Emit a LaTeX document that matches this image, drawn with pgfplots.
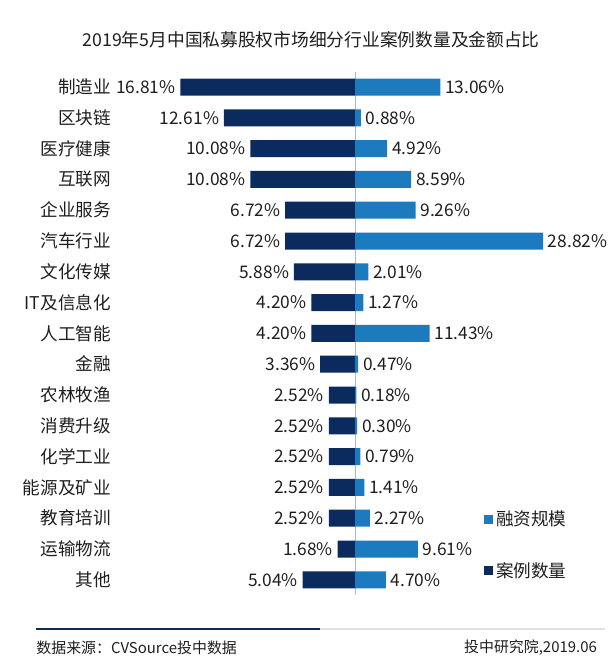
\documentclass[border=0pt]{standalone}
\usepackage{pgfplots}
\pgfplotsset{compat=1.18}
\usepackage{fontspec}
\setmainfont{Noto Sans CJK SC}
\definecolor{navy}{HTML}{0B2A5E}
\definecolor{blu}{HTML}{1B7BBE}
\definecolor{cline}{HTML}{A9B8CC}
\definecolor{txt}{HTML}{1E1E1E}
\pgfplotsset{
  base/.style={
    at={(0pt,0pt)}, anchor=south west, scale only axis,
    width=457.5pt, height=503.25pt,
    xbar, bar width=12.75pt, bar shift=0pt, y dir=reverse, ymin=-2.8247, ymax=18.961,
    axis line style={draw=none}, xtick=\empty, clip=false,
    major tick length=0pt,
    nodes near coords={\pgfmathprintnumber[assume math mode=true,fixed,fixed zerofill,precision=2]{\pgfplotspointmeta}\%},
  }
}
\begin{document}
\begin{tikzpicture}
\begin{scope}[x=0.75pt,y=0.75pt]
\useasboundingbox (0,0) rectangle (610,671);
\end{scope}
% left: case counts
\begin{axis}[base, x dir=reverse, xmin=-24.52, xmax=34.13, ytick=\empty,
  every node near coord/.append style={anchor=east, font=\fontsize{13}{15}\selectfont, text=txt, inner sep=3.5pt}]
\addplot[fill=navy, draw=none, bar shift=0pt] coordinates {
(16.81,0) (12.61,1) (10.08,2) (10.08,3) (6.72,4) (6.72,5) (5.88,6) (4.20,7) (4.20,8)
(3.36,9) (2.52,10) (2.52,11) (2.52,12) (2.52,13) (2.52,14) (1.68,15) (5.04,16)};
\end{axis}
% right: financing share
\begin{axis}[base, xmin=-54.45, xmax=39.11,
  ytick={0,...,16},
  yticklabels={制造业,区块链,医疗健康,互联网,企业服务,汽车行业,文化传媒,IT及信息化,人工智能,金融,农林牧渔,消费升级,化学工业,能源及矿业,教育培训,运输物流,其他},
  yticklabel style={anchor=east, xshift=83.25pt, inner sep=0pt, font=\fontsize{13.2}{15}\selectfont, text=txt},
  every node near coord/.append style={anchor=west, font=\fontsize{13}{15}\selectfont, text=txt, inner sep=3.5pt},
  legend style={at={(0.7934,0.2429)}, anchor=north west, draw=none, fill=none, inner sep=0pt,
    row sep=22pt, font=\fontsize{13.2}{15}\selectfont, text=txt},
  legend cell align=left,
  legend image code/.code={\fill[#1] (0pt,-3.4pt) rectangle (6.8pt,3.4pt);}]
\draw[cline, line width=0.9pt] (axis cs:0,-0.49) -- (axis cs:0,16.49);
\addplot[fill=blu, draw=none, forget plot, bar shift=0pt] coordinates {
(13.06,0) (0.88,1) (4.92,2) (8.59,3) (9.26,4) (28.82,5) (2.01,6) (1.27,7) (11.43,8)
(0.47,9) (0.18,10) (0.30,11) (0.79,12) (1.41,13) (2.27,14) (9.61,15) (4.70,16)};
\addlegendimage{fill=blu, draw=none}
\addlegendentry{融资规模}
\addlegendimage{fill=navy, draw=none}
\addlegendentry{案例数量}
\end{axis}
\begin{scope}[x=0.75pt,y=0.75pt]
\node[font=\fontsize{13.3}{16}\selectfont, text=txt] at (311,631) {2019年5月中国私募股权市场细分行业案例数量及金额占比};
\draw[navy, line width=2.2pt] (36,42) -- (320,42);
\draw[black!12, line width=1.5pt] (320,42) -- (605,42);
\node[anchor=west, inner sep=0pt, font=\fontsize{11.2}{13}\selectfont, text=txt] at (36,23) {数据来源：CVSource投中数据};
\node[anchor=east, inner sep=0pt, font=\fontsize{11.2}{13}\selectfont, text=txt] at (597,23) {投中研究院,2019.06};
\end{scope}
\end{tikzpicture}
\end{document}
